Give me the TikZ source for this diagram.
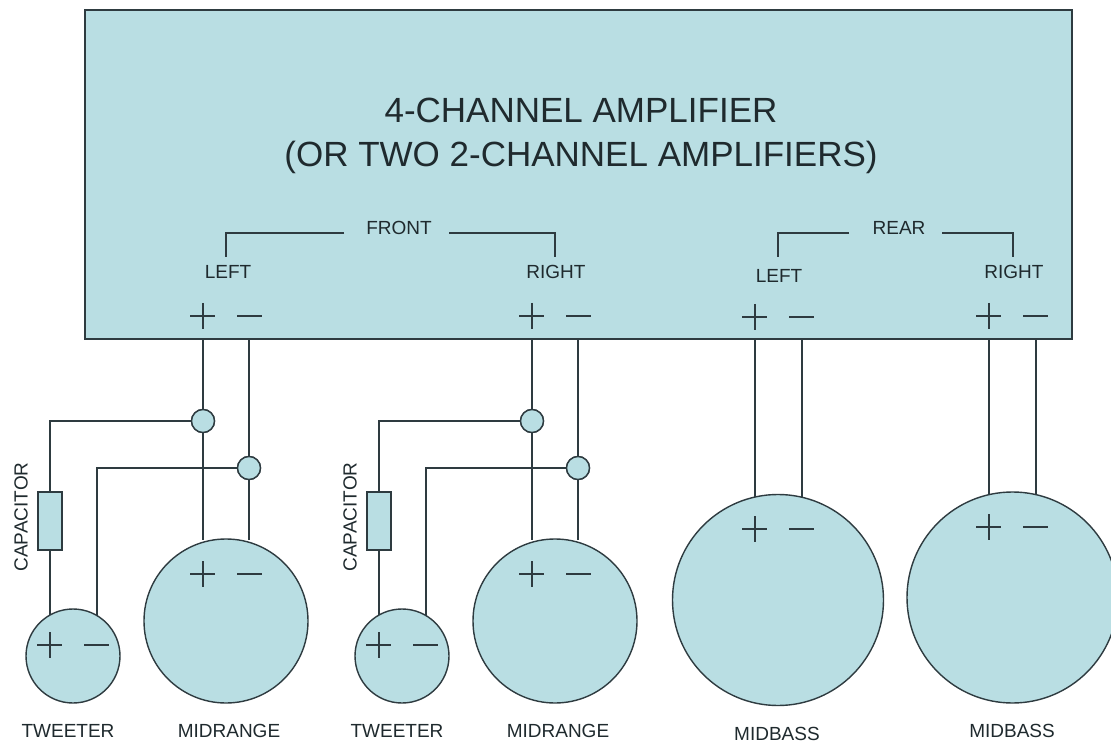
\documentclass[tikz,border=0pt]{standalone}
\usepackage{fontspec}
\setmainfont{Liberation Sans}
\definecolor{fillc}{HTML}{B9DEE3}
\definecolor{linec}{HTML}{2E3B40}
\definecolor{textc}{HTML}{1F2A2E}
\tikzset{x=1pt,y=-1pt,
 shape box/.style={draw=linec,fill=fillc,line width=1.4pt},
 wire/.style={draw=linec,line width=1.3pt},
 sign/.style={draw=linec,line width=1.1pt},
 small/.style={text=textc,font=\fontsize{19}{19}\selectfont,inner sep=0pt},
 label/.style={text=textc,font=\fontsize{19}{19}\selectfont,inner sep=0pt},
 junction/.style={circle,shape box,minimum size=23pt,inner sep=0pt}}
\newcommand{\plusminus}[2]{%
 \draw[sign] (#1-13,#2) -- (#1+12,#2) (#1,#2-13) -- (#1,#2+13);
 \draw[sign] (#1+34,#2) -- (#1+59,#2);}
\begin{document}
\begin{tikzpicture}
\useasboundingbox (0,0) rectangle (1111,743);
\fill[white] (0,0) rectangle (1111,743);
\path[shape box] (85,10) rectangle (1072,339);
\coordinate (a1) at (203,339); \coordinate (a2) at (249,339);
\coordinate (a3) at (532,339); \coordinate (a4) at (578,339);
\coordinate (a5) at (755,339); \coordinate (a6) at (802,339);
\coordinate (a7) at (989,339); \coordinate (a8) at (1036,339);
\node[junction] (j1) at (203,421) {};
\node[junction] (j2) at (249,468) {};
\node[junction] (j3) at (532,421) {};
\node[junction] (j4) at (578,468) {};
\coordinate (m1a) at (203,540); \coordinate (m1b) at (249,540);
\coordinate (m2a) at (532,540); \coordinate (m2b) at (578,540);
\coordinate (t1a) at (50,616); \coordinate (t1b) at (97,616);
\coordinate (t2a) at (379,616); \coordinate (t2b) at (426,616);
\coordinate (b1a) at (755,500); \coordinate (b1b) at (802,500);
\coordinate (b2a) at (989,497); \coordinate (b2b) at (1036,497);
\draw[wire] (a1) -- (j1) (j1) -- (m1a) (a2) -- (j2) (j2) -- (m1b);
\draw[wire] (a3) -- (j3) (j3) -- (m2a) (a4) -- (j4) (j4) -- (m2b);
\draw[wire] (a5) -- (b1a) (a6) -- (b1b) (a7) -- (b2a) (a8) -- (b2b);
\draw[wire] (j1) -- (50,421) -- (t1a);
\draw[wire] (j2) -- (97,468) -- (t1b);
\draw[wire] (j3) -- (379,421) -- (t2a);
\draw[wire] (j4) -- (426,468) -- (t2b);
\node[junction] at (j1) {};
\node[junction] at (j2) {};
\node[junction] at (j3) {};
\node[junction] at (j4) {};
\node[shape box,minimum width=24pt,minimum height=58pt,inner sep=0pt] (c1) at (50,521) {};
\node[shape box,minimum width=24pt,minimum height=58pt,inner sep=0pt] (c2) at (379,521) {};
\node[circle,shape box,minimum size=94pt,inner sep=0pt] (t1) at (73,656) {};
\node[circle,shape box,minimum size=94pt,inner sep=0pt] (t2) at (402,656) {};
\node[circle,shape box,minimum size=164pt,inner sep=0pt] (m1) at (226,621) {};
\node[circle,shape box,minimum size=164pt,inner sep=0pt] (m2) at (555,621) {};
\node[circle,shape box,minimum size=211pt,inner sep=0pt] (b1) at (778,600) {};
\node[circle,shape box,minimum size=211pt,inner sep=0pt] (b2) at (1012.5,597.5) {};
\plusminus{203}{316}
\plusminus{532}{316}
\plusminus{755}{317}
\plusminus{989}{316}
\plusminus{50}{645}
\plusminus{379}{645}
\plusminus{203}{574}
\plusminus{532}{574}
\plusminus{755}{529}
\plusminus{989}{527}
\node[text=textc,font=\fontsize{35}{44}\selectfont,align=center,inner sep=0pt] (title) at (581,135.5) {4-CHANNEL AMPLIFIER\\(OR TWO 2-CHANNEL AMPLIFIERS)};
\node[small] (front) at (399,228) {FRONT};
\node[small] (rear) at (899,228) {REAR};
\node[small] (l1) at (228,272) {LEFT};
\node[small] (r1) at (556,272) {RIGHT};
\node[small] (l2) at (779,276) {LEFT};
\node[small] (r2) at (1014,272) {RIGHT};
\draw[wire] (344,233) -- (226,233) -- (226,257);
\draw[wire] (449,233) -- (555,233) -- (555,257);
\draw[wire] (849,233) -- (778,233) -- (778,257);
\draw[wire] (942,233) -- (1013,233) -- (1013,257);
\node[label,rotate=90] at (21,517) {CAPACITOR};
\node[label,rotate=90] at (350,517) {CAPACITOR};
\node[label] at (68,731) {TWEETER};
\node[label] at (229,731) {MIDRANGE};
\node[label] at (397,731) {TWEETER};
\node[label] at (558,731) {MIDRANGE};
\node[label] at (777,733.5) {MIDBASS};
\node[label] at (1012,731) {MIDBASS};
\end{tikzpicture}
\end{document}
